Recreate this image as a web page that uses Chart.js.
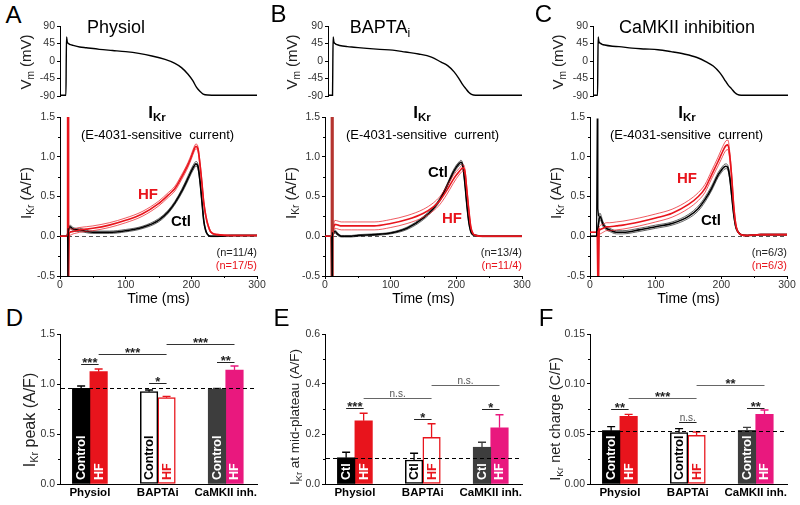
<!DOCTYPE html>
<html><head><meta charset="utf-8">
<script src="https://cdn.jsdelivr.net/npm/chart.js@4.4.1/dist/chart.umd.min.js"></script>
<style>
html,body{margin:0;padding:0;background:#fff;width:800px;height:505px;overflow:hidden}
#fig{position:relative;width:800px;height:505px;font-family:Arial,"Liberation Sans",Helvetica,sans-serif;color:#000}
#fig canvas{position:absolute}
.t{position:absolute;white-space:pre;line-height:1}
.t sub{font-size:68%;vertical-align:-0.3em;line-height:0}
</style></head><body><div id="fig"></div>
<script>
// ================= DATA =================
// Action potential (voltage) traces
const vmTimeA  = [0, 9, 9.5, 10, 11, 13, 16, 20, 30, 40, 60, 80, 100, 120, 140, 160, 175, 185, 195, 202, 208, 213, 218, 225, 240, 300];
const vmPhysiol= [-88, -88, 0, 62, 50, 45, 42, 40, 36, 34, 30, 27, 24, 19.5, 13, 4, -6, -17, -34, -50, -68, -78, -85, -87.5, -88, -88];
const vmTimeBC = [0, 7, 7.5, 8, 9, 11, 14, 18, 30, 40, 60, 80, 100, 120, 140, 160, 175, 185, 195, 202, 208, 213, 218, 222, 228, 240, 300];
const vmBapta  = [-88, -88, 0, 62, 50, 45, 42, 40, 37, 35.5, 32.5, 30, 28, 23, 18, 10, -3, -12, -28, -44, -60, -71, -81, -86, -88, -88, -88];
const vmCamk   = [-88, -88, 0, 62, 50, 46, 43, 41, 38, 37, 33, 31, 29, 24, 18, 9, -3, -13, -30, -47, -62, -71, -81, -86, -88, -88, -88];
const vmTicks  = [-90, -45, 0, 45, 90];

// IKr current traces (mean and SEM, A/F)
const timeMs = [0,10,15,20,25,30,40,50,75,100,125,150,165,175,185,195,200,204,207,210,213,216,219,222,225,230,240,260,300];
const physiolCtl    = [0,0,0.12,0.09,0.08,0.08,0.06,0.05,0.05,0.07,0.11,0.20,0.31,0.42,0.56,0.73,0.82,0.88,0.91,0.88,0.71,0.45,0.19,0.07,0.02,0.00,0.00,0.01,0.01];
const physiolCtlSem = [0,0,0.02,0.02,0.02,0.02,0.015,0.015,0.015,0.015,0.015,0.02,0.02,0.02,0.025,0.03,0.03,0.03,0.03,0.03,0.03,0.02,0.015,0.01,0.005,0.005,0.005,0.005,0.005];
const physiolHf     = [0,0,0.05,0.06,0.07,0.08,0.09,0.10,0.14,0.20,0.28,0.41,0.52,0.60,0.74,0.90,1.00,1.09,1.13,1.10,0.92,0.68,0.42,0.26,0.15,0.05,0.02,0.01,0.01];
const physiolHfSem  = [0,0,0.04,0.03,0.03,0.03,0.03,0.03,0.03,0.03,0.03,0.03,0.03,0.03,0.03,0.03,0.03,0.03,0.03,0.03,0.03,0.03,0.025,0.02,0.015,0.01,0.005,0.005,0.005];
const baptaCtl      = [0,0,0.06,0.02,0.00,0.00,0.00,0.01,0.02,0.04,0.10,0.23,0.35,0.46,0.62,0.80,0.87,0.91,0.93,0.88,0.67,0.40,0.18,0.06,0.02,0.01,0,0,0];
const baptaCtlSem   = [0,0,0.02,0.015,0.01,0.01,0.01,0.01,0.01,0.01,0.015,0.02,0.02,0.02,0.02,0.025,0.025,0.025,0.025,0.025,0.02,0.02,0.015,0.01,0.005,0.005,0.005,0.005,0.005];
const baptaHf       = [0,0,0.15,0.14,0.13,0.13,0.13,0.13,0.13,0.16,0.21,0.29,0.37,0.45,0.57,0.71,0.77,0.81,0.84,0.86,0.82,0.58,0.33,0.12,0.04,0.01,0,0,0];
const baptaHfSem    = [0,0,0.05,0.05,0.05,0.05,0.05,0.05,0.05,0.05,0.05,0.05,0.05,0.05,0.05,0.05,0.045,0.04,0.04,0.04,0.03,0.03,0.02,0.01,0.005,0.005,0.005,0.005,0.005];
const camkCtl       = [0,0,0.25,0.15,0.10,0.08,0.05,0.05,0.08,0.12,0.16,0.25,0.35,0.46,0.60,0.77,0.83,0.87,0.88,0.86,0.73,0.50,0.27,0.12,0.06,0.02,0.01,0.02,0.02];
const camkCtlSem    = [0,0,0.04,0.03,0.02,0.02,0.02,0.02,0.02,0.02,0.02,0.025,0.03,0.03,0.03,0.03,0.03,0.03,0.03,0.03,0.03,0.03,0.02,0.015,0.01,0.005,0.005,0.005,0.005];
const camkHf        = [0.05,0.05,0.08,0.10,0.12,0.12,0.13,0.14,0.18,0.23,0.29,0.40,0.50,0.60,0.77,0.94,1.03,1.10,1.14,1.15,1.00,0.72,0.37,0.15,0.06,0.02,0.01,0.02,0.02];
const camkHfSem     = [0,0,0.05,0.05,0.05,0.05,0.05,0.05,0.05,0.05,0.05,0.05,0.05,0.05,0.05,0.055,0.06,0.06,0.06,0.06,0.05,0.04,0.03,0.02,0.01,0.005,0.005,0.005,0.005];
// stimulus artifacts
const artPhysiolRedT = [11, 11.6, 12.2, 12.8, 13.4, 14];   const artPhysiolRedV = [0, 1.6, -0.6, 1.6, -0.6, 0.05];
const artPhysiolBlkT = [11.5, 12, 12.5];                   const artPhysiolBlkV = [0, -0.6, 0.1];
const artBaptaRedT   = [9.5, 10, 10.5, 11, 11.5, 12];      const artBaptaRedV   = [0, 1.6, -0.6, 1.6, -0.6, 0.1];
const artBaptaBlkT   = [10.2, 10.8, 11.3];                 const artBaptaBlkV   = [0, -0.6, 0.05];
const artCamkRedT    = [11, 12, 13, 14];                   const artCamkRedV    = [0.05, -0.6, -0.6, 0.1];
const artCamkBlkT    = [10, 11, 12, 13];                   const artCamkBlkV    = [0, 1.48, 0.35, 0.25];
const ikrTicks   = [-0.5, 0, 0.5, 1.0, 1.5];
const ikrMinor   = [-0.25, 0.25, 0.75, 1.25];
const timeTicks  = [0, 100, 200, 300];
const timeMinor  = [50, 150, 250];

// Bar summaries
const groups = ['Physiol', 'BAPTAi', 'CaMKII inh.'];
const peakCtl = [0.957, 0.923, 0.950];  const peakCtlSem = [0.023, 0.017, 0.007];
const peakHf  = [1.123, 0.863, 1.140];  const peakHfSem  = [0.027, 0.014, 0.040];
const peakRef = 0.957;
const peakTicks = [0, 0.5, 1.0, 1.5];   const peakMinor = [0.25, 0.75, 1.25];
const peakSig = [{a:[0,0],b:[0,1],y:1.20,t:'***'},{a:[0,1],b:[1,1],y:1.297,t:'***'},{a:[1,1],b:[2,1],y:1.397,t:'***'},{a:[1,0],b:[1,1],y:1.013,t:'*'},{a:[2,0],b:[2,1],y:1.22,t:'**'}];

const plateauCtl = [0.105, 0.096, 0.147]; const plateauCtlSem = [0.022, 0.027, 0.020];
const plateauHf  = [0.253, 0.187, 0.225]; const plateauHfSem  = [0.030, 0.054, 0.052];
const plateauRef = 0.105;
const plateauTicks = [0, 0.2, 0.4, 0.6]; const plateauMinor = [0.1, 0.3, 0.5];
const plateauSig = [{a:[0,0],b:[0,1],y:0.303,t:'***'},{a:[0,1],b:[1,1],y:0.344,t:'n.s.'},{a:[1,1],b:[2,1],y:0.395,t:'n.s.'},{a:[1,0],b:[1,1],y:0.26,t:'*'},{a:[2,0],b:[2,1],y:0.299,t:'*'}];

const chargeCtl = [0.0533, 0.0513, 0.0537]; const chargeCtlSem = [0.0040, 0.0040, 0.0030];
const chargeHf  = [0.0677, 0.0487, 0.0697]; const chargeHfSem  = [0.0020, 0.0033, 0.0043];
const chargeRef = 0.053;
const chargeTicks = [0, 0.05, 0.10, 0.15]; const chargeMinor = [0.025, 0.075, 0.125];
const chargeSig = [{a:[0,0],b:[0,1],y:0.0753,t:'**'},{a:[0,1],b:[1,1],y:0.0857,t:'***'},{a:[1,1],b:[2,1],y:0.0987,t:'**'},{a:[1,0],b:[1,1],y:0.0617,t:'n.s.'},{a:[2,0],b:[2,1],y:0.0757,t:'**'}];

// ================= STYLE / HELPERS =================
const RED = '#e8141c', MAG = '#e9187e', DGRAY = '#3d3d3d';
const FONT = 'Arial, "Liberation Sans", sans-serif';
const fig = document.getElementById('fig');

function pts(xs, ys) { return xs.map((x, i) => ({x: x, y: ys[i]})); }
function band(xs, m, s, sg) { return xs.map((x, i) => ({x: x, y: m[i] + sg * s[i]})); }

function mk(area, yW, xH, cfg) {
  const padL = 2, padT = 10, padR = 14, padB = xH ? 2 : 10;
  const c = document.createElement('canvas');
  const left = area.l - yW - padL, top = area.t - padT;
  const w = area.r - left + padR, h = area.b - top + xH + padB;
  c.width = w; c.height = h;
  c.style.left = left + 'px'; c.style.top = top + 'px';
  c.style.width = w + 'px'; c.style.height = h + 'px';
  fig.appendChild(c);
  const o = cfg.options;
  o.responsive = false; o.animation = false; o.devicePixelRatio = 1;
  o.layout = {padding: {left: padL, top: padT, right: padR, bottom: padB}};
  o.plugins = Object.assign({legend: {display: false}, tooltip: {enabled: false}}, o.plugins || {});
  o.scales.y.afterFit = s => { s.width = yW; };
  o.scales.x.afterFit = s => { s.height = xH; };
  return new Chart(c, cfg);
}

function axisY(min, max, ticks, fmt, extra) {
  return Object.assign({
    type: 'linear', min: min, max: max,
    afterBuildTicks: s => { s.ticks = ticks.map(v => ({value: v})); },
    ticks: {font: {family: FONT, size: 10.5}, color: '#333', padding: 2, callback: fmt},
    grid: {drawOnChartArea: false, drawTicks: true, tickLength: 3, color: '#000'},
    border: {display: true, color: '#000', width: 1}
  }, extra || {});
}

function decor(o) {
  return {
    id: 'decor',
    beforeDatasetsDraw(chart) {
      if (o.zero === undefined) return;
      const {ctx, chartArea: a, scales: {y}} = chart;
      const py = Math.round(y.getPixelForValue(o.zero)) + 0.5;
      ctx.save(); ctx.strokeStyle = o.zeroColor || '#555'; ctx.lineWidth = 1; ctx.setLineDash([4, 3]);
      ctx.beginPath(); ctx.moveTo(a.left + 1, py); ctx.lineTo(a.right, py); ctx.stroke(); ctx.restore();
    },
    afterDraw(chart) {
      const {ctx, chartArea: a, scales: {x, y}} = chart;
      ctx.save(); ctx.strokeStyle = '#000'; ctx.lineWidth = 1;
      (o.minorY || []).forEach(v => { const py = Math.round(y.getPixelForValue(v)) + 0.5;
        ctx.beginPath(); ctx.moveTo(a.left, py); ctx.lineTo(a.left - 2, py); ctx.stroke(); });
      (o.minorX || []).forEach(v => { const px = Math.round(x.getPixelForValue(v)) + 0.5;
        ctx.beginPath(); ctx.moveTo(px, a.bottom); ctx.lineTo(px, a.bottom + 2); ctx.stroke(); });
      ctx.restore();
    }
  };
}

// ---------- voltage panels ----------
function vmChart(area, tArr, vArr) {
  return mk(area, 30, 0, {
    type: 'line',
    data: {datasets: [{data: pts(tArr, vArr), borderColor: '#000', borderWidth: 1.4, pointRadius: 0, fill: false, cubicInterpolationMode: 'monotone'}]},
    options: {scales: {
      x: {type: 'linear', min: 0, max: 300, display: false},
      y: axisY(-90, 90, vmTicks, v => String(v))
    }}
  });
}
vmChart({l: 60, t: 26, r: 257, b: 96}, vmTimeA, vmPhysiol);
vmChart({l: 328, t: 26, r: 522, b: 96}, vmTimeBC, vmBapta);
vmChart({l: 593, t: 26, r: 788, b: 96}, vmTimeBC, vmCamk);

// ---------- current panels ----------
function ikrChart(area, ctl, ctlSem, hf, hfSem, art) {
  const base = {pointRadius: 0, fill: false, cubicInterpolationMode: 'monotone'};
  const ds = [
    Object.assign({}, base, {data: pts(art.bt, art.bv), borderColor: '#000', borderWidth: 1.2, cubicInterpolationMode: 'default', tension: 0}),
    Object.assign({}, base, {data: pts(art.rt, art.rv), borderColor: art.rc, borderWidth: art.rw, cubicInterpolationMode: 'default', tension: 0}),
    Object.assign({}, base, {data: pts(timeMs, hf), borderColor: RED, borderWidth: 1.6}),
    Object.assign({}, base, {data: band(timeMs, hf, hfSem, 1), borderColor: RED, borderWidth: 0.7}),
    Object.assign({}, base, {data: band(timeMs, hf, hfSem, -1), borderColor: RED, borderWidth: 0.7}),
    Object.assign({}, base, {data: pts(timeMs, ctl), borderColor: '#000', borderWidth: 1.6}),
    Object.assign({}, base, {data: band(timeMs, ctl, ctlSem, 1), borderColor: '#222', borderWidth: 0.7}),
    Object.assign({}, base, {data: band(timeMs, ctl, ctlSem, -1), borderColor: '#222', borderWidth: 0.7})
  ];
  return mk(area, 34, 32, {
    type: 'line',
    data: {datasets: ds},
    options: {scales: {
      x: {type: 'linear', min: 0, max: 300,
          afterBuildTicks: s => { s.ticks = timeTicks.map(v => ({value: v})); },
          ticks: {font: {family: FONT, size: 10.5}, color: '#333', padding: 0, maxRotation: 0},
          grid: {drawOnChartArea: false, drawTicks: true, tickLength: 3, color: '#000'},
          border: {display: true, color: '#000', width: 1},
          title: {display: true, text: 'Time (ms)', font: {family: FONT, size: 14}, color: '#000', padding: {top: 0, bottom: 0}}},
      y: axisY(-0.5, 1.5, ikrTicks, v => v.toFixed(1))
    }}
  , plugins: [decor({zero: 0, minorY: ikrMinor, minorX: timeMinor})]});
}
ikrChart({l: 60, t: 117, r: 257, b: 276}, physiolCtl, physiolCtlSem, physiolHf, physiolHfSem,
  {rt: artPhysiolRedT, rv: artPhysiolRedV, bt: artPhysiolBlkT, bv: artPhysiolBlkV, rc: RED, rw: 1.6});
ikrChart({l: 325, t: 117, r: 522, b: 276}, baptaCtl, baptaCtlSem, baptaHf, baptaHfSem,
  {rt: artBaptaRedT, rv: artBaptaRedV, bt: artBaptaBlkT, bv: artBaptaBlkV, rc: '#b5342f', rw: 2.2});
ikrChart({l: 590, t: 117, r: 787, b: 276}, camkCtl, camkCtlSem, camkHf, camkHfSem,
  {rt: artCamkRedT, rv: artCamkRedV, bt: artCamkBlkT, bv: artCamkBlkV, rc: RED, rw: 1.6});

// ---------- bar panels ----------
function barDecor(o) {
  return {
    id: 'barDecor',
    afterDatasetsDraw(chart) {
      const {ctx, chartArea: a, scales: {y}} = chart;
      const means = [o.ctl, o.hf], sems = [o.ctlSem, o.hfSem];
      const errCol = [['#000', '#000', DGRAY], [RED, RED, MAG]];
      const txtCol = [['#fff', '#000', '#fff'], ['#fff', RED, '#fff']];
      ctx.save();
      [0, 1].forEach(di => {
        chart.getDatasetMeta(di).data.forEach((el, i) => {
          const top = y.getPixelForValue(means[di][i] + sems[di][i]);
          ctx.strokeStyle = errCol[di][i]; ctx.lineWidth = 1.3;
          ctx.beginPath(); ctx.moveTo(el.x, el.y); ctx.lineTo(el.x, top);
          ctx.moveTo(el.x - 4, top); ctx.lineTo(el.x + 4, top); ctx.stroke();
          ctx.save(); ctx.translate(el.x + 0.5, a.bottom - 4); ctx.rotate(-Math.PI / 2);
          ctx.fillStyle = txtCol[di][i]; ctx.font = 'bold 12.5px ' + FONT;
          ctx.textAlign = 'left'; ctx.textBaseline = 'middle';
          ctx.fillText(o.names[di], 0, 0); ctx.restore();
        });
      });
      // reference dashed line
      const py = Math.round(y.getPixelForValue(o.ref)) + 0.5;
      ctx.strokeStyle = '#000'; ctx.lineWidth = 1; ctx.setLineDash([4, 3]);
      ctx.beginPath(); ctx.moveTo(a.left + 1, py); ctx.lineTo(a.right, py); ctx.stroke();
      ctx.setLineDash([]);
      // significance
      o.sig.forEach(s => {
        const e1 = chart.getDatasetMeta(s.a[1]).data[s.a[0]], e2 = chart.getDatasetMeta(s.b[1]).data[s.b[0]];
        const sy = Math.round(y.getPixelForValue(s.y)) + 0.5;
        const long = s.a[0] !== s.b[0];
        ctx.strokeStyle = long ? o.longCol : '#222'; ctx.lineWidth = 1;
        ctx.beginPath(); ctx.moveTo(e1.x, sy); ctx.lineTo(e2.x, sy); ctx.stroke();
        const mid = (e1.x + e2.x) / 2;
        ctx.textAlign = 'center'; ctx.textBaseline = 'alphabetic';
        if (s.t.indexOf('*') >= 0) { ctx.fillStyle = '#222'; ctx.font = 'bold 13px ' + FONT; ctx.fillText(s.t, mid, sy + 2); }
        else { ctx.fillStyle = '#555'; ctx.font = '10px ' + FONT; ctx.fillText(s.t, mid, sy - 2); }
      });
      ctx.restore();
    },
    afterDraw(chart) {
      const {ctx, chartArea: a, scales: {y}} = chart;
      ctx.save(); ctx.strokeStyle = '#000'; ctx.lineWidth = 1;
      o.minor.forEach(v => { const p = Math.round(y.getPixelForValue(v)) + 0.5;
        ctx.beginPath(); ctx.moveTo(a.left, p); ctx.lineTo(a.left - 2, p); ctx.stroke(); });
      ctx.restore();
    }
  };
}

function barChart(area, o) {
  const common = {barThickness: 17.5, borderSkipped: false, grouped: true};
  return mk(area, 34, 20, {
    type: 'bar',
    data: {datasets: [
      Object.assign({}, common, {data: pts([0, 1, 2], o.ctl), backgroundColor: ['#000', '#fff', DGRAY], borderColor: ['#000', '#000', DGRAY], borderWidth: [0, 1.5, 0]}),
      Object.assign({}, common, {data: pts([0, 1, 2], o.hf), backgroundColor: [RED, '#fff', MAG], borderColor: [RED, RED, MAG], borderWidth: [0, 1.5, 0]})
    ]},
    options: {scales: {
      x: {type: 'linear', min: -0.44, max: 2.46, offset: false,
          afterBuildTicks: s => { s.ticks = groups.map((g, i) => ({value: i})); },
          ticks: {font: {family: FONT, size: 11.5, weight: 'bold'}, color: '#000', padding: 2, maxRotation: 0, autoSkip: false,
                  callback: v => groups[Math.round(v)]},
          grid: {drawOnChartArea: false, drawTicks: false, offset: false},
          border: {display: true, color: '#000', width: 1}},
      y: axisY(o.min, o.max, o.ticks, o.fmt)
    }},
    plugins: [barDecor(o)]
  });
}
barChart({l: 60, t: 334, r: 257, b: 484}, {ctl: peakCtl, ctlSem: peakCtlSem, hf: peakHf, hfSem: peakHfSem, ref: peakRef,
  sig: peakSig, min: 0, max: 1.5, ticks: peakTicks, minor: peakMinor, fmt: v => v.toFixed(1), names: ['Control', 'HF'], longCol: '#333'});
barChart({l: 325, t: 334, r: 522, b: 484}, {ctl: plateauCtl, ctlSem: plateauCtlSem, hf: plateauHf, hfSem: plateauHfSem, ref: plateauRef,
  sig: plateauSig, min: 0, max: 0.6, ticks: plateauTicks, minor: plateauMinor, fmt: v => v.toFixed(1), names: ['Ctl', 'HF'], longCol: '#666'});
barChart({l: 590, t: 334, r: 787, b: 484}, {ctl: chargeCtl, ctlSem: chargeCtlSem, hf: chargeHf, hfSem: chargeHfSem, ref: chargeRef,
  sig: chargeSig, min: 0, max: 0.15, ticks: chargeTicks, minor: chargeMinor, fmt: v => v.toFixed(2), names: ['Control', 'HF'], longCol: '#666'});

// ================= TEXT =================
function txt(html, x, y, css, anchor) {
  const d = document.createElement('div');
  d.className = 't'; d.innerHTML = html;
  d.style.cssText += css;
  d.style.left = x + 'px'; d.style.top = y + 'px';
  d.style.transform = anchor === 'rot' ? 'translate(-50%,-50%) rotate(-90deg)' :
                      anchor === 'right' ? 'translate(-100%,-50%)' : 'translate(-50%,-50%)';
  fig.appendChild(d);
}
// panel letters
[['A', 13.5, 15], ['B', 278.5, 14], ['C', 543.5, 14], ['D', 14.5, 317.5], ['E', 281.5, 317.5], ['F', 546, 317.5]]
  .forEach(p => txt(p[0], p[1], p[2], 'font-size:24px;'));
// titles
txt('Physiol', 116, 27, 'font-size:18px;');
txt('BAPTA<sub>i</sub>', 380, 27, 'font-size:18px;');
txt('CaMKII inhibition', 687, 27, 'font-size:18px;');
// voltage axis titles
[25, 291, 556.5].forEach(x => txt('V<sub>m</sub> (mV)', x, 62, 'font-size:15px;color:#222;', 'rot'));
// current headings
[157, 422, 687].forEach(x => {
  txt('I<sub>Kr</sub>', x, 112, 'font-size:17px;font-weight:bold;');
});
[157.5, 422.5, 686.5].forEach(x => txt('(E-4031-sensitive  current)', x, 134, 'font-size:13px;'));
[25, 290, 555].forEach(x => txt('I<sub>Kr</sub> (A/F)', x, 193, 'font-size:15px;color:#222;', 'rot'));
// trace labels
txt('HF', 148, 193, 'font-size:15px;font-weight:bold;color:' + RED + ';');
txt('Ctl', 181, 220, 'font-size:15px;font-weight:bold;');
txt('Ctl', 438, 171, 'font-size:15px;font-weight:bold;');
txt('HF', 452, 217, 'font-size:15px;font-weight:bold;color:' + RED + ';');
txt('HF', 687, 177, 'font-size:15px;font-weight:bold;color:' + RED + ';');
txt('Ctl', 711, 219, 'font-size:15px;font-weight:bold;');
// n labels
[[257, '(n=11/4)', '(n=17/5)'], [522, '(n=13/4)', '(n=11/4)'], [787, '(n=6/3)', '(n=6/3)']].forEach(n => {
  txt(n[1], n[0], 252, 'font-size:11px;color:#222;', 'right');
  txt(n[2], n[0], 265, 'font-size:11px;color:' + RED + ';', 'right');
});
// bar panel axis titles
txt('I<sub>Kr</sub> peak (A/F)', 30, 420, 'font-size:16px;color:#222;', 'rot');
txt('I<sub>Kr</sub> at mid-plateau (A/F)', 295, 417, 'font-size:13.5px;color:#222;', 'rot');
txt('I<sub>Kr</sub> net charge (C/F)', 555, 419, 'font-size:14.5px;color:#222;', 'rot');
</script>
</body></html>
